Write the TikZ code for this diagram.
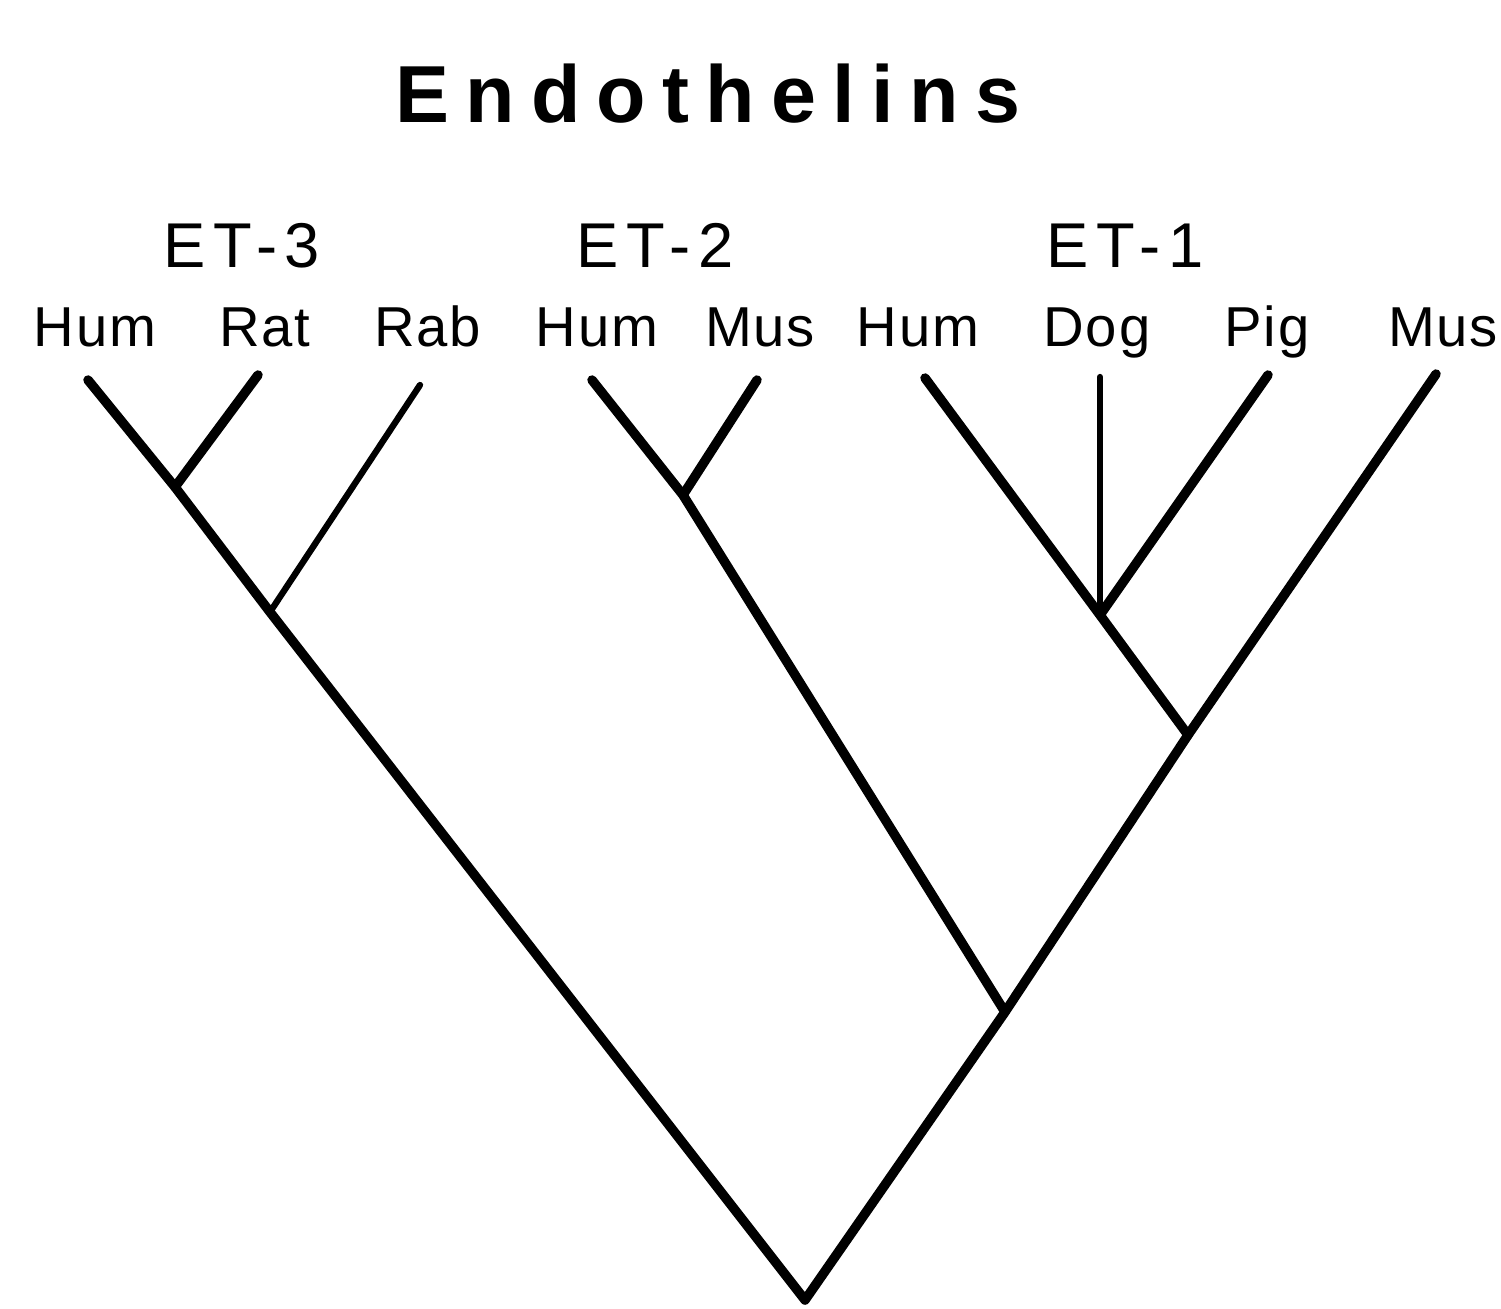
\documentclass[tikz,border=0pt]{standalone}
\usepackage{fontspec}
\setmainfont{Liberation Sans}
\tikzset{
    % Tree lines
    branch/.style={
        line width=2.7pt,
        line cap=round,
        line join=round,
        color=black
    },
    branch thin/.style={
        branch,
        line width=1.8pt
    },
    % Labels
    taxon/.style={
        anchor=base,
        inner sep=0pt,
        font=\fontsize{16}{18}\selectfont\addfontfeatures{LetterSpace=3}
    },
    group label/.style={
        anchor=base,
        inner sep=0pt,
        font=\fontsize{18}{20}\selectfont\addfontfeatures{LetterSpace=12}
    },
    heading/.style={
        anchor=base,
        inner sep=0pt,
        font=\fontsize{23}{26}\selectfont\bfseries\addfontfeatures{LetterSpace=20}
    }
}
\begin{document}
\begin{tikzpicture}[x=0.01cm, y=-0.01cm]
        \useasboundingbox (0,0) rectangle (1501,1308);

        % Title and groups
        \node[heading] (title) at (708,122) {Endothelins};
        \node[group label] (et3) at (242,267) {ET-3};
        \node[group label] (et2) at (655,267) {ET-2};
        \node[group label] (et1) at (1125,267) {ET-1};

        % Taxa
        \node[taxon] (humA) at (95,346) {Hum};
        \node[taxon] (ratA) at (265,346) {Rat};
        \node[taxon] (rab) at (428,346) {Rab};
        \node[taxon] (humB) at (597,346) {Hum};
        \node[taxon] (musB) at (760,346) {Mus};
        \node[taxon] (humC) at (918,346) {Hum};
        \node[taxon] (dog) at (1097,346) {Dog};
        \node[taxon] (pig) at (1267,346) {Pig};
        \node[taxon] (musC) at (1443,346) {Mus};

        % Tips
        \coordinate (humA tip) at (88,380);
        \coordinate (ratA tip) at (258,375);
        \coordinate (rab tip) at (420,385);
        \coordinate (humB tip) at (592,380);
        \coordinate (musB tip) at (757,380);
        \coordinate (humC tip) at (925,378);
        \coordinate (dog tip) at (1100,377);
        \coordinate (pig tip) at (1268,375);
        \coordinate (musC tip) at (1436,374);

        % Joins
        \coordinate (et3 hr) at (175,487);
        \coordinate (et3 all) at (270,612);
        \coordinate (et2 all) at (683,495);
        \coordinate (et1 hdp) at (1100,615);
        \coordinate (et1 all) at (1188,735);
        \coordinate (et12) at (1005,1012);
        \coordinate (root) at (805,1300);

        % Branches
        \draw[branch] (humA tip) -- (et3 hr) -- (et3 all) -- (root) -- (et12) -- (et1 all) -- (musC tip);
        \draw[branch] (ratA tip) -- (et3 hr);
        \draw[branch thin] (rab tip) -- (et3 all);
        \draw[branch] (humB tip) -- (et2 all) -- (et12);
        \draw[branch] (musB tip) -- (et2 all);
        \draw[branch] (humC tip) -- (et1 hdp) -- (et1 all);
        \draw[branch thin] (dog tip) -- (et1 hdp);
        \draw[branch] (pig tip) -- (et1 hdp);
    \end{tikzpicture}
\end{document}
